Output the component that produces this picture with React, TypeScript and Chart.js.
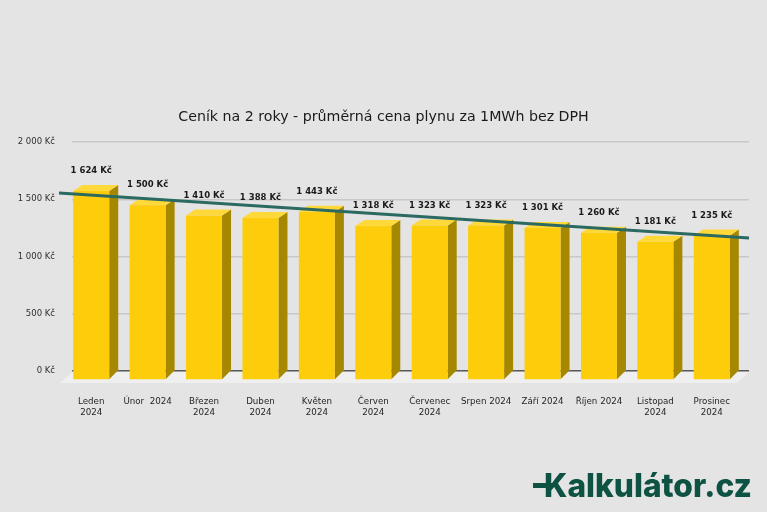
import React, { useEffect, useRef } from "react";
import { Chart, registerables } from "chart.js";

Chart.register(...registerables);

const categories = [
  "Leden 2024", "Únor 2024", "Březen 2024", "Duben 2024", "Květen 2024", "Červen 2024",
  "Červenec 2024", "Srpen 2024", "Září 2024", "Říjen 2024", "Listopad 2024", "Prosinec 2024",
];
const tickLabels: (string | string[])[] = [
  ["Leden", "2024"], "Únor  2024", ["Březen", "2024"], ["Duben", "2024"], ["Květen", "2024"],
  ["Červen", "2024"], ["Červenec", "2024"], "Srpen 2024", "Září 2024", "Říjen 2024",
  ["Listopad", "2024"], ["Prosinec", "2024"],
];
const prices = [1624, 1500, 1410, 1388, 1443, 1318, 1323, 1323, 1301, 1260, 1181, 1235];
const yTicks = [0, 500, 1000, 1500, 2000];
const trendX = [-0.73, 11.5];
const trendY = [1555, 1162];

const TITLE = "Ceník na 2 roky - průměrná cena plynu za 1MWh bez DPH";
const LOGO = "Kalkulátor.cz";

const fmt = (v: number) => String(v).replace(/\B(?=(\d{3})+(?!\d))/g, " ") + " Kč";

const DX = 9;
const DY_TOP = 6;
const DY_BOT = 9;
const FLOOR = 12;

const bars3d = {
  id: "bars3d",
  beforeDraw(chart: any) {
    const { ctx, chartArea: a } = chart;
    const y0 = chart.scales.y.getPixelForValue(0);
    ctx.save();
    ctx.fillStyle = "#efefef";
    ctx.beginPath();
    ctx.moveTo(a.left, y0 + 1);
    ctx.lineTo(a.right, y0 + 1);
    ctx.lineTo(a.right - FLOOR, y0 + FLOOR);
    ctx.lineTo(a.left - FLOOR, y0 + FLOOR);
    ctx.closePath();
    ctx.fill();
    ctx.restore();
  },
  afterDatasetDraw(chart: any, args: any) {
    if (args.index !== 0) return;
    const { ctx } = chart;
    const meta = chart.getDatasetMeta(0);
    ctx.save();
    meta.data.forEach((el: any) => {
      const { x, y, base, width } = el.getProps(["x", "y", "base", "width"], true);
      const L = x - width / 2;
      const R = x + width / 2;
      const fL = L - DX;
      const fR = R - DX;
      const fT = y + DY_TOP;
      const fB = base + DY_BOT;
      ctx.fillStyle = "#a68700";
      ctx.beginPath();
      ctx.moveTo(fR, fT);
      ctx.lineTo(R, y);
      ctx.lineTo(R, base);
      ctx.lineTo(fR, fB);
      ctx.closePath();
      ctx.fill();
      ctx.fillStyle = "#ffd83a";
      ctx.beginPath();
      ctx.moveTo(fL, fT);
      ctx.lineTo(L, y);
      ctx.lineTo(R, y);
      ctx.lineTo(fR, fT);
      ctx.closePath();
      ctx.fill();
      ctx.fillStyle = "#fdcc0a";
      ctx.fillRect(fL, fT, fR - fL, fB - fT);
    });
    ctx.restore();
  },
  afterDatasetsDraw(chart: any) {
    const { ctx } = chart;
    const meta = chart.getDatasetMeta(0);
    ctx.save();
    ctx.font = "bold 8.5px 'DejaVu Sans'";
    ctx.fillStyle = "#1a1a1a";
    ctx.textAlign = "center";
    ctx.textBaseline = "middle";
    meta.data.forEach((el: any, i: number) => {
      const { x, y } = el.getProps(["x", "y"], true);
      ctx.fillText(fmt(prices[i]), x - DX, y - 14);
    });
    ctx.restore();
  },
  afterDraw(chart: any) {
    const { ctx } = chart;
    ctx.save();
    ctx.font = "14.2px 'DejaVu Sans'";
    ctx.fillStyle = "#1a1a1a";
    ctx.textAlign = "center";
    ctx.textBaseline = "middle";
    ctx.fillText(TITLE, 383.5, 117);
    ctx.fillStyle = "#0d5243";
    ctx.fillRect(533, 483, 20, 5);
    ctx.font = "800 33px Inter";
    ctx.textAlign = "left";
    ctx.textBaseline = "alphabetic";
    const w = ctx.measureText(LOGO).width;
    const target = 208;
    ctx.translate(544, 497);
    ctx.scale(target / w, 1);
    ctx.fillText(LOGO, 0, 0);
    ctx.restore();
  },
};

export default function App() {
  const ref = useRef<HTMLCanvasElement>(null);
  useEffect(() => {
    if (!ref.current) return;
    const chart = new Chart(ref.current, {
      type: "bar",
      data: {
        labels: categories,
        datasets: [
          {
            type: "bar",
            data: prices,
            backgroundColor: "rgba(0,0,0,0)",
            borderWidth: 0,
            barPercentage: 0.638,
            categoryPercentage: 1,
            grouped: false,
            order: 2,
          } as any,
          {
            type: "line",
            xAxisID: "xt",
            data: trendX.map((x, i) => ({ x, y: trendY[i] })),
            borderColor: "#2b6a61",
            borderWidth: 3,
            pointRadius: 0,
            clip: false,
            order: 1,
          } as any,
        ],
      },
      options: {
        responsive: false,
        animation: false,
        events: [],
        layout: { padding: { top: 142, right: 18, bottom: 0, left: 0 } },
        plugins: { legend: { display: false }, tooltip: { enabled: false }, title: { display: false } },
        scales: {
          x: {
            type: "category",
            grid: { display: false },
            border: { display: false },
            afterFit: (s: any) => { s.height = 141; },
            ticks: {
              autoSkip: false,
              maxRotation: 0,
              minRotation: 0,
              padding: 17,
              labelOffset: -9,
              color: "#262626",
              font: { family: "'DejaVu Sans'", size: 8.7, lineHeight: 1.3 },
              callback: (_v: any, i: number) => tickLabels[i],
            },
          },
          xt: {
            type: "linear",
            display: false,
            min: -0.5,
            max: 11.5,
            offset: false,
          },
          y: {
            min: 0,
            max: 2000,
            afterFit: (s: any) => { s.width = 72; },
            afterBuildTicks: (s: any) => { s.ticks = yTicks.map((v) => ({ value: v })); },
            border: { display: false },
            grid: {
              drawTicks: false,
              lineWidth: 1.5,
              color: (c: any) => (c.tick && c.tick.value === 0 ? "#5a5a5a" : "#c8c8c8"),
            },
            ticks: {
              padding: 17,
              color: "#303030",
              font: { family: "'DejaVu Sans'", size: 8.5 },
              callback: (v: any) => fmt(Number(v)),
            },
          },
        },
      },
      plugins: [bars3d],
    } as any);
    return () => chart.destroy();
  }, []);
  return (
    <div style={{ position: "fixed", left: 0, top: 0, width: 767, height: 512, background: "#e4e4e4" }}>
      <canvas ref={ref} width={767} height={512} style={{ display: "block" }} />
    </div>
  );
}
